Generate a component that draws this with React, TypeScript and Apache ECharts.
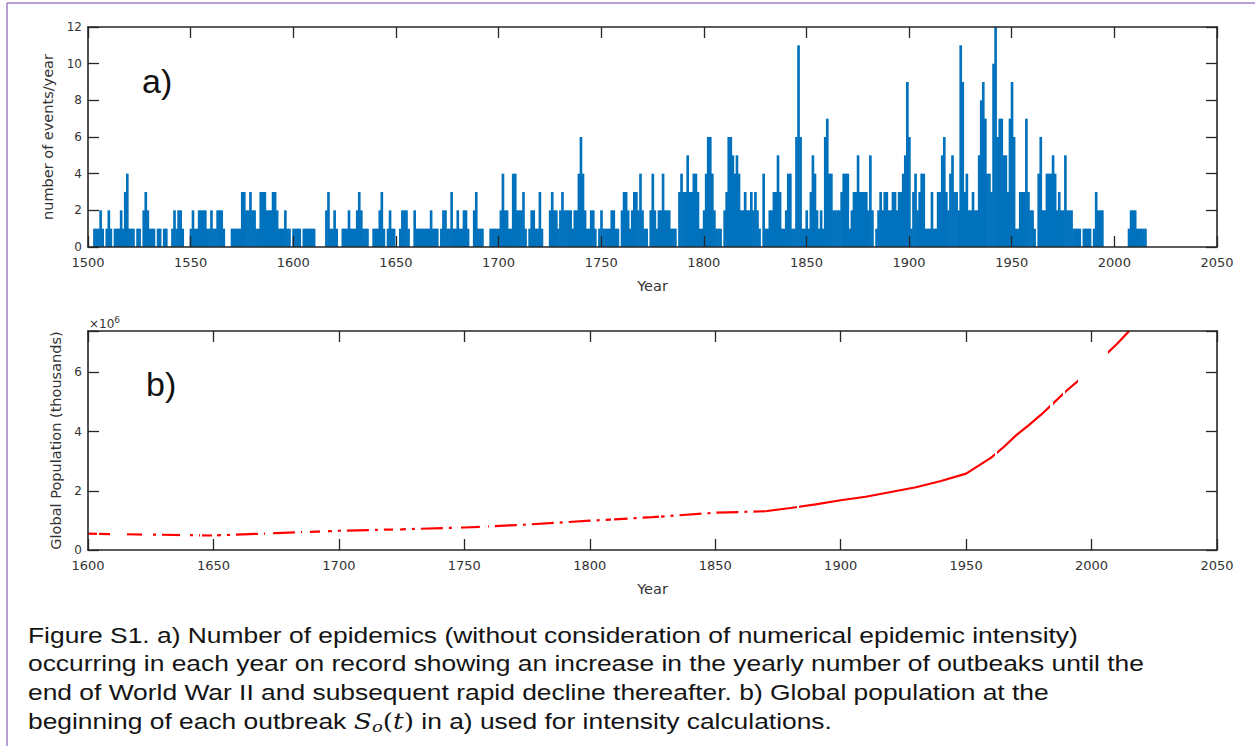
import React, { useEffect, useRef } from "react";
import * as echarts from "echarts";

// Number of recorded epidemics per year, starting at FIRST_YEAR (one value per year).
const FIRST_YEAR = 1500;
const eventCounts: number[] = [
  0, 0, 0, 1, 1, 1, 2, 1, 0, 1, // 1500s
  2, 1, 0, 1, 1, 1, 2, 1, 3, 4, // 1510s
  1, 1, 1, 0, 1, 1, 0, 2, 3, 2, // 1520s
  1, 1, 1, 0, 1, 1, 0, 1, 1, 0, // 1530s
  0, 1, 2, 1, 2, 2, 1, 0, 0, 0, // 1540s
  1, 2, 1, 1, 2, 2, 2, 2, 1, 1, // 1550s
  2, 1, 1, 2, 2, 2, 1, 0, 0, 0, // 1560s
  1, 1, 1, 1, 1, 3, 3, 2, 2, 3, // 1570s
  2, 2, 1, 1, 3, 3, 3, 2, 2, 2, // 1580s
  3, 3, 2, 1, 1, 1, 2, 1, 1, 0, // 1590s
  1, 1, 1, 1, 0, 1, 1, 1, 1, 1, // 1600s
  1, 0, 0, 0, 0, 0, 2, 3, 1, 1, // 1610s
  2, 1, 0, 0, 1, 1, 1, 2, 1, 1, // 1620s
  1, 2, 3, 2, 1, 1, 1, 0, 0, 1, // 1630s
  1, 1, 2, 3, 1, 0, 1, 2, 1, 1, // 1640s
  0, 0, 1, 2, 2, 2, 1, 0, 0, 2, // 1650s
  1, 1, 1, 1, 1, 1, 1, 2, 1, 1, // 1660s
  1, 0, 1, 2, 2, 1, 1, 3, 1, 1, // 1670s
  2, 1, 1, 2, 2, 1, 0, 0, 2, 3, // 1680s
  1, 1, 1, 0, 0, 0, 1, 1, 1, 1, // 1690s
  1, 2, 4, 2, 2, 1, 1, 4, 4, 2, // 1700s
  2, 2, 3, 1, 0, 1, 2, 2, 1, 1, // 1710s
  3, 1, 0, 0, 0, 2, 3, 2, 2, 1, // 1720s
  2, 3, 2, 2, 2, 2, 1, 2, 2, 4, // 1730s
  6, 4, 2, 1, 1, 2, 2, 1, 0, 1, // 1740s
  2, 1, 1, 1, 1, 2, 2, 1, 1, 0, // 1750s
  2, 3, 3, 2, 1, 2, 3, 3, 2, 4, // 1760s
  2, 1, 1, 0, 2, 4, 2, 1, 2, 2, // 1770s
  4, 2, 2, 2, 1, 1, 1, 0, 3, 4, // 1780s
  3, 3, 5, 3, 3, 4, 4, 3, 1, 1, // 1790s
  2, 4, 6, 6, 4, 2, 1, 1, 1, 0, // 1800s
  2, 3, 6, 6, 5, 4, 5, 4, 2, 2, // 1810s
  3, 2, 2, 3, 2, 3, 2, 1, 0, 4, // 1820s
  1, 1, 2, 2, 3, 3, 5, 3, 1, 1, // 1830s
  2, 4, 4, 1, 1, 6, 11, 6, 1, 1, // 1840s
  2, 1, 3, 5, 4, 2, 1, 2, 1, 6, // 1850s
  7, 4, 4, 2, 2, 2, 2, 3, 4, 4, // 1860s
  4, 1, 2, 3, 3, 5, 3, 3, 3, 3, // 1870s
  2, 5, 2, 0, 1, 2, 3, 2, 3, 3, // 1880s
  2, 2, 3, 3, 2, 3, 3, 4, 5, 9, // 1890s
  6, 1, 3, 4, 2, 3, 4, 4, 1, 1, // 1900s
  1, 3, 1, 1, 3, 3, 5, 6, 3, 2, // 1910s
  4, 5, 3, 3, 2, 11, 9, 3, 4, 2, // 1920s
  2, 3, 2, 2, 5, 8, 9, 7, 4, 4, // 1930s
  3, 10, 12, 6, 7, 7, 5, 5, 3, 7, // 1940s
  9, 6, 1, 1, 3, 3, 3, 7, 3, 2, // 1950s
  2, 1, 0, 4, 6, 2, 2, 4, 4, 4, // 1960s
  5, 4, 2, 3, 2, 2, 5, 2, 2, 2, // 1970s
  1, 1, 1, 1, 0, 1, 1, 1, 1, 0, // 1980s
  1, 3, 2, 2, 2, 0, 0, 0, 0, 0, // 1990s
  0, 0, 0, 0, 0, 0, 0, 1, 2, 2, // 2000s
  2, 1, 1, 1, 1, 1, // 2010-2015
];

// Global population (×10^6 thousands) at the start of outbreaks.
const popYears: number[] = [
  1600, 1625, 1650, 1675, 1700, 1725, 1750, 1775, 1800, 1825, 1850, 1870,
  1880, 1890, 1900, 1910, 1920, 1930, 1940, 1950, 1960, 1965, 1970,
  1975, 1980, 1985, 1990, 1995, 2000, 2005, 2010, 2015,
];
const popValues: number[] = [
  0.55, 0.52, 0.49, 0.57, 0.65, 0.7, 0.76, 0.86, 0.99, 1.11, 1.26, 1.31,
  1.42, 1.54, 1.68, 1.8, 1.96, 2.12, 2.33, 2.58, 3.12, 3.48, 3.88,
  4.22, 4.58, 4.98, 5.38, 5.74, 6.15, 6.55, 6.95, 7.4,
];
// Earlier part of the population curve is drawn dash-dotted, later part solid.
const POP_DASH_UNTIL = 1870;

// Axis ranges
const eventXRange = { min: 1500, max: 2050, step: 50 };
const eventYRange = { min: 0, max: 12, step: 2 };
const popXRange = { min: 1600, max: 2050, step: 50 };
const popYRange = { min: 0, max: 7.4, step: 2 };

const captionLines: string[] = [
  "Figure S1. a) Number of epidemics (without consideration of numerical epidemic intensity)",
  "occurring in each year on record showing an increase in the yearly number of outbeaks until the",
  "end of World War II and subsequent rapid decline thereafter. b) Global population at the",
  "beginning of each outbreak {i|S}{sub|o}{m|(}{i|t}{m|)} in a) used for intensity calculations.",
];

const BAR_BLUE = "#0072BD";
const LINE_RED = "#ff0000";
const AXIS_DARK = "#262626";
const LABEL_GREY = "#333333";
const TICK_FONT = "DejaVu Sans";

const years = eventCounts.map((_, i) => FIRST_YEAR + i);
const barData = eventCounts.map((c, i) => [years[i], c]);

const popPoints = popYears.map((y, i) => [y, popValues[i]]);
const popEarly = popPoints.filter((p) => p[0] <= POP_DASH_UNTIL);
const popLate = popPoints.filter((p) => p[0] >= POP_DASH_UNTIL);

// Years without any outbreak leave the population curve undrawn.
function emptyYearPieces() {
  const pieces: any[] = [];
  let runStart: number | null = null;
  const clear = "rgba(255,0,0,0)";
  for (let i = 0; i < years.length; i++) {
    const y = years[i];
    if (y < popXRange.min) continue;
    const empty = eventCounts[i] === 0;
    if (empty && runStart === null) runStart = y;
    if (!empty && runStart !== null) {
      pieces.push({ gte: runStart - 0.5, lt: y - 0.5, color: clear });
      runStart = null;
    }
  }
  if (runStart !== null) {
    pieces.push({ gte: runStart - 0.5, lt: years[years.length - 1] + 0.5, color: clear });
  }
  return pieces;
}

// One full-width column per year (histogram style, no gaps between years).
function renderYearColumn(_params: any, api: any) {
  const year = api.value(0);
  const count = api.value(1);
  if (!count) return null;
  const base = api.coord([year - 0.5, 0]);
  const top = api.coord([year + 0.5, count]);
  return {
    type: "rect",
    shape: {
      x: base[0],
      y: top[1],
      width: top[0] - base[0] + 0.6,
      height: base[1] - top[1],
    },
    style: { fill: BAR_BLUE },
  };
}

function frameAxis(extra: any) {
  return {
    type: "value",
    z: 10,
    splitLine: { show: false },
    axisLine: { show: true, onZero: false, lineStyle: { color: AXIS_DARK, width: 1.6 } },
    axisTick: { show: true, inside: true, length: 11, lineStyle: { color: AXIS_DARK, width: 1.3 } },
    axisLabel: { show: false },
    ...extra,
  };
}

const plainNumber = (v: number) => String(v);

function xLabel() {
  return { show: true, color: LABEL_GREY, fontFamily: TICK_FONT, fontSize: 13, margin: 9, formatter: plainNumber };
}
function yLabel(formatter: any = plainNumber) {
  return { show: true, color: LABEL_GREY, fontFamily: TICK_FONT, fontSize: 12, margin: 6, formatter };
}
const nameStyle = { color: LABEL_GREY, fontFamily: TICK_FONT, fontSize: 14.5 };

export default function App() {
  const ref = useRef<HTMLDivElement>(null);

  useEffect(() => {
    if (!ref.current) return;
    const chart = echarts.init(ref.current, undefined, { renderer: "svg" });

    const captionTexts = captionLines.map((line, i) => ({
      type: "text",
      x: 28,
      y: 635 + i * 28.7,
      scaleX: 1.2,
      style: {
        text: line,
        fill: "#141414",
        font: '22px "Liberation Sans", Arial, sans-serif',
        verticalAlign: "middle",
        align: "left",
        rich: {
          i: { fontFamily: "DejaVu Serif", fontStyle: "italic", fontSize: 22 },
          m: { fontFamily: "DejaVu Serif", fontSize: 22 },
          sub: { fontFamily: "DejaVu Serif", fontStyle: "italic", fontSize: 15, padding: [12, 0, 0, 0] },
        },
      },
    }));

    chart.setOption({
      animation: false,
      backgroundColor: "#ffffff",
      grid: [
        { left: 88, top: 27, width: 1129, height: 220 },
        { left: 88, top: 331, width: 1129, height: 219 },
      ],
      xAxis: [
        frameAxis({
          gridIndex: 0,
          position: "bottom",
          min: eventXRange.min,
          max: eventXRange.max,
          interval: eventXRange.step,
          axisLabel: xLabel(),
          name: "Year",
          nameLocation: "middle",
          nameGap: 31,
          nameTextStyle: nameStyle,
        }),
        frameAxis({
          gridIndex: 0,
          position: "top",
          min: eventXRange.min,
          max: eventXRange.max,
          interval: eventXRange.step,
        }),
        frameAxis({
          gridIndex: 1,
          position: "bottom",
          min: popXRange.min,
          max: popXRange.max,
          interval: popXRange.step,
          axisLabel: xLabel(),
          name: "Year",
          nameLocation: "middle",
          nameGap: 31,
          nameTextStyle: nameStyle,
        }),
        frameAxis({
          gridIndex: 1,
          position: "top",
          min: popXRange.min,
          max: popXRange.max,
          interval: popXRange.step,
        }),
      ],
      yAxis: [
        frameAxis({
          gridIndex: 0,
          position: "left",
          min: eventYRange.min,
          max: eventYRange.max,
          interval: eventYRange.step,
          axisLabel: yLabel(),
          name: "number of events/year",
          nameLocation: "middle",
          nameGap: 21,
          nameTextStyle: nameStyle,
        }),
        frameAxis({
          gridIndex: 0,
          position: "right",
          min: eventYRange.min,
          max: eventYRange.max,
          interval: eventYRange.step,
        }),
        frameAxis({
          gridIndex: 1,
          position: "left",
          min: popYRange.min,
          max: popYRange.max,
          interval: popYRange.step,
          axisLabel: yLabel((v: number) => (v % popYRange.step === 0 ? String(v) : "")),
          name: "Global Population (thousands)",
          nameLocation: "middle",
          nameGap: 17,
          nameTextStyle: nameStyle,
        }),
        frameAxis({
          gridIndex: 1,
          position: "right",
          min: popYRange.min,
          max: popYRange.max,
          interval: popYRange.step,
        }),
      ],
      visualMap: {
        type: "piecewise",
        show: false,
        dimension: 0,
        seriesIndex: [1, 2],
        pieces: emptyYearPieces(),
        outOfRange: { color: LINE_RED },
      },
      series: [
        {
          type: "custom",
          xAxisIndex: 0,
          yAxisIndex: 0,
          data: barData,
          encode: { x: 0, y: 1 },
          renderItem: renderYearColumn,
          clip: true,
          z: 2,
        },
        {
          type: "line",
          xAxisIndex: 2,
          yAxisIndex: 2,
          data: popEarly,
          symbol: "none",
          showSymbol: false,
          color: LINE_RED,
          lineStyle: { width: 2.2, type: [22, 6, 3, 6] },
          z: 3,
        },
        {
          type: "line",
          xAxisIndex: 2,
          yAxisIndex: 2,
          data: popLate,
          symbol: "none",
          showSymbol: false,
          color: LINE_RED,
          lineStyle: { width: 2.2 },
          z: 3,
        },
      ],
      graphic: [
        // page frame
        { type: "line", shape: { x1: 7, y1: 3, x2: 1255, y2: 3 }, style: { stroke: "#9f7cc6", lineWidth: 1.5 } },
        { type: "line", shape: { x1: 7, y1: 3, x2: 7, y2: 746 }, style: { stroke: "#9f7cc6", lineWidth: 1.5 } },
        // panel labels
        {
          type: "text",
          x: 142,
          y: 81,
          style: { text: "a)", fill: "#111", font: '34px "Liberation Sans", Arial, sans-serif', verticalAlign: "middle" },
        },
        {
          type: "text",
          x: 146,
          y: 384,
          style: { text: "b)", fill: "#111", font: '34px "Liberation Sans", Arial, sans-serif', verticalAlign: "middle" },
        },
        {
          type: "text",
          x: 89,
          y: 324,
          style: {
            text: "×10{sup|6}",
            fill: LABEL_GREY,
            font: '12px "DejaVu Sans"',
            verticalAlign: "middle",
            rich: { sup: { fontSize: 9, fontFamily: "DejaVu Sans", padding: [0, 0, 9, 0] } },
          },
        },
        ...captionTexts,
      ],
    });

    return () => chart.dispose();
  }, []);

  return (
    <div
      ref={ref}
      style={{ position: "fixed", left: 0, top: 0, width: 1255, height: 746, background: "#fff" }}
    />
  );
}
